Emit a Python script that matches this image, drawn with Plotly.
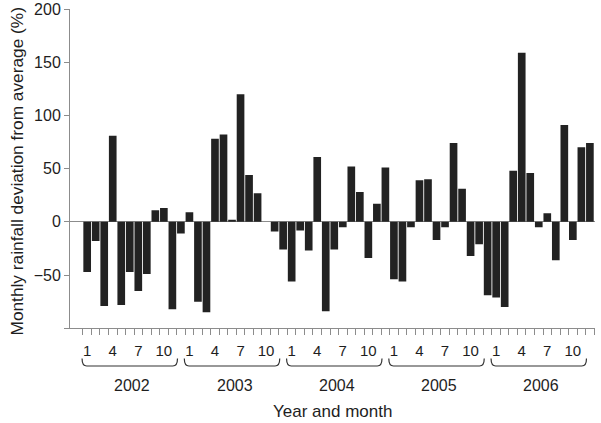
import plotly.graph_objects as go

years = [2002, 2003, 2004, 2005, 2006]
month_labels = ["1", "4", "7", "10"]
month_label_numbers = [1, 4, 7, 10]

dev_2002 = [-47, -18, -79, 81, -78, -47, -65, -49, 11, 13, -82, -11]
dev_2003 = [9, -75, -85, 78, 82, 2, 120, 44, 27, 0, -9, -26]
dev_2004 = [-56, -8, -27, 61, -84, -26, -5, 52, 28, -34, 17, 51]
dev_2005 = [-54, -56, -5, 39, 40, -17, -5, 74, 31, -32, -21, -69]
dev_2006 = [-71, -80, 48, 159, 46, -5, 8, -36, 91, -17, 70, 74]

y_tick_values = [-50, 0, 50, 100, 150, 200]

all_values = dev_2002 + dev_2003 + dev_2004 + dev_2005 + dev_2006
idx = list(range(len(all_values)))

FONT = "Liberation Sans, Arial, sans-serif"
TXT = "#1e1e1e"
AX = "#8c8c8c"

fig = go.Figure()
fig.add_trace(go.Bar(x=idx, y=all_values, marker=dict(color="#222222", line=dict(width=0)),
                     showlegend=False, hoverinfo="x+y"))

tickvals = []
ticktext = []
for k, yr in enumerate(years):
    for m, lab in zip(month_label_numbers, month_labels):
        tickvals.append(12 * k + m - 1)
        ticktext.append(lab)
boundaries = [i - 0.5 for i in range(len(all_values) + 1)]

plot_top = 9
plot_bottom = 332
ph = plot_bottom - plot_top

def py(pix):
    return (plot_bottom - pix) / ph

ytop = py(358.5)
ybot = py(366)
shapes = []
annotations = []
for k, yr in enumerate(years):
    c = 12 * k + 5.0
    xs, xe = c - 5.6, c + 5.6
    r = 0.55
    path = (f"M {xs},{ytop} Q {xs},{ybot} {xs + r},{ybot} "
            f"L {xe - r},{ybot} Q {xe},{ybot} {xe},{ytop}")
    shapes.append(dict(type="path", path=path, xref="x", yref="paper",
                       line=dict(color="#333333", width=1.2)))
    annotations.append(dict(x=12 * k + 5.3, y=py(385.5), xref="x", yref="paper",
                            text=str(yr), showarrow=False, xanchor="center", yanchor="middle",
                            font=dict(family=FONT, size=16, color=TXT)))

annotations.append(dict(x=(332.5 - 64) / 531, y=py(411.5), xref="paper", yref="paper",
                        text="Year and month", showarrow=False, xanchor="center", yanchor="middle",
                        font=dict(family=FONT, size=17, color=TXT)))
annotations.append(dict(x=(16 - 64) / 531, y=py(171.5), xref="paper", yref="paper",
                        text="Monthly rainfall deviation from average (%)", textangle=-90,
                        showarrow=False, xanchor="center", yanchor="middle",
                        font=dict(family=FONT, size=17.3, color=TXT)))

fig.update_layout(
    width=601, height=423,
    margin=dict(l=64, r=6, t=plot_top, b=423 - plot_bottom, pad=0),
    paper_bgcolor="white", plot_bgcolor="white",
    bargap=0.1,
    font=dict(family=FONT, size=16, color=TXT),
    xaxis=dict(domain=[0, 1], range=[-2.72, 59.6], showgrid=False, zeroline=False,
               showline=True, linecolor=AX, linewidth=1,
               tickmode="array", tickvals=tickvals, ticktext=ticktext,
               ticks="outside", ticklen=9, tickcolor="rgba(0,0,0,0)",
               tickfont=dict(family=FONT, size=15, color=TXT),
               minor=dict(tickmode="array", tickvals=boundaries, ticks="outside",
                          ticklen=6, tickcolor=AX, tickwidth=1, showgrid=False),
               automargin=False, fixedrange=True),
    yaxis=dict(domain=[(plot_bottom - 328.3) / ph, 1], range=[-100, 200],
               anchor="free", position=5 / 531,
               showgrid=False, zeroline=True, zerolinecolor=AX, zerolinewidth=1,
               showline=True, linecolor=AX, linewidth=1,
               tickmode="array", tickvals=y_tick_values,
               ticks="outside", ticklen=5, tickcolor=AX,
               tickfont=dict(family=FONT, size=16, color=TXT),
               automargin=False, fixedrange=True),
    shapes=shapes,
    annotations=annotations,
)

fig.write_html("out.html", config={"displayModeBar": False},
               post_script="document.body.style.margin='0px';document.body.style.padding='0px';")
